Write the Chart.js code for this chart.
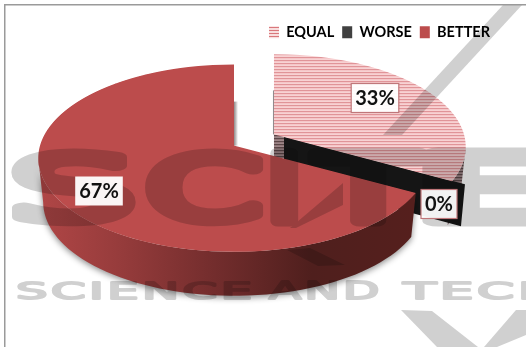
<!DOCTYPE html>
<html>
<head>
<meta charset="utf-8">
<title>Pie</title>
<style>
  html, body { margin: 0; padding: 0; background: #fff; overflow: hidden; }
  canvas { display: block; }
</style>
<script src="https://cdn.jsdelivr.net/npm/chart.js@4"></script>
</head>
<body>
<canvas id="pie" width="526" height="347"></canvas>
<script>
const categories = ["EQUAL", "WORSE", "BETTER"];
const shares = [33, 0, 67];
const sliceColors = ["#e8a0a2", "#404040", "#bc4c4c"];

const bigWatermark = ["S", "C", "I", "T", "E"];
const smallWatermark = ["SCIENCE", "AND", "TECH"];

// how the flat pie is laid over on the page
const pieCentre = { x: 254, y: 140 };
const explode = { x: 23.2, y: 11 };
const depth = 44;
const lean = 0.134;
const radiusX = [190, 190, 194];
const radiusY = [91, 91, 92];
const labelSpots = [[375, 98, true], [439, 204, true], [99, 191, false]];

const canvas = document.getElementById("pie");

// horizontal line fill, redrawn in device pixels so squashing the pie keeps the lines fine
function hatch(rows) {
  const tile = document.createElement("canvas");
  tile.width = 4;
  tile.height = rows.length;
  const t = tile.getContext("2d");
  rows.forEach((c, i) => {
    t.fillStyle = c;
    t.fillRect(0, i, 4, 1);
  });
  return canvas.getContext("2d").createPattern(tile, "repeat");
}
const topHatch = hatch(["#e09498", "#f5c6c8", "#f7d2d3"]);
const legendHatch = hatch(["#d9787c", "#f8dede", "#f8dede"]);
const wallHatch = hatch(["#5b4748", "#8f7678", "#9c8688"]);

function apexOf(arc) {
  const mid = (arc.startAngle + arc.endAngle) / 2;
  return { x: pieCentre.x + Math.cos(mid) * explode.x, y: pieCentre.y + Math.sin(mid) * explode.y };
}

// perspective view of a point on the flat rim
function rimPoint(apex, i, angle, shrink) {
  const u = Math.cos(angle), v = Math.sin(angle);
  const w = 1 / (1 - lean * v);
  return { x: apex.x + radiusX[i] * u * w * (shrink || 1), y: apex.y + radiusY[i] * v * w };
}

// outer side of a slice, only the part facing the viewer
function drawWall(ctx, arc, i, apex, fill, shadow) {
  const edge = Math.asin(lean);
  const from = Math.max(arc.startAngle, edge);
  const to = Math.min(arc.endAngle, Math.PI - edge);
  if (to <= from) return;
  ctx.save();
  ctx.beginPath();
  const steps = 60;
  for (let s = 0; s <= steps; s++) {
    const p = rimPoint(apex, i, from + (to - from) * s / steps);
    s ? ctx.lineTo(p.x, p.y) : ctx.moveTo(p.x, p.y);
  }
  for (let s = steps; s >= 0; s--) {
    const p = rimPoint(apex, i, from + (to - from) * s / steps, 0.975);
    ctx.lineTo(p.x, p.y + depth);
  }
  ctx.closePath();
  if (shadow) {
    ctx.shadowColor = "rgba(0,0,0,0.45)";
    ctx.shadowBlur = 6;
    ctx.shadowOffsetY = 2;
  }
  ctx.fillStyle = fill;
  ctx.fill();
  ctx.restore();
}

// canvas has no perspective transform, so the arc element is drawn one pixel row at a time
function drawTop(ctx, arc, i, apex) {
  const k = radiusY[i];
  const first = Math.floor(rimPoint(apex, i, -Math.PI / 2).y) - 1;
  const last = Math.ceil(rimPoint(apex, i, Math.PI / 2).y) + 1;
  for (let row = first; row <= last; row++) {
    const dy = row + 0.5 - apex.y;
    const v = dy / (k + lean * dy);
    const w = 1 / (1 - lean * v);
    const slope = (k + lean * dy) * (k + lean * dy) / k;
    ctx.save();
    ctx.beginPath();
    ctx.rect(0, row, canvas.width, 1);
    ctx.clip();
    ctx.translate(apex.x, row + 0.5);
    ctx.scale(radiusX[i] * w / arc.outerRadius, slope / arc.outerRadius);
    ctx.translate(-arc.x, -arc.y - v * arc.outerRadius);
    topHatch.setTransform(ctx.getTransform().inverse());
    arc.draw(ctx);
    ctx.restore();
  }
}

function drawFlatText(ctx, text, x, top, w, h, font, thick) {
  ctx.font = font;
  const m = ctx.measureText(text);
  const bw = m.actualBoundingBoxLeft + m.actualBoundingBoxRight;
  const bh = m.actualBoundingBoxAscent + m.actualBoundingBoxDescent;
  ctx.save();
  ctx.translate(x, top);
  ctx.scale(w / bw, h / bh);
  ctx.lineWidth = thick;
  ctx.fillText(text, m.actualBoundingBoxLeft, m.actualBoundingBoxAscent);
  ctx.strokeText(text, m.actualBoundingBoxLeft, m.actualBoundingBoxAscent);
  ctx.restore();
}

function polygon(ctx, pts) {
  ctx.beginPath();
  pts.forEach((p, i) => (i ? ctx.lineTo(p[0], p[1]) : ctx.moveTo(p[0], p[1])));
  ctx.closePath();
  ctx.fill();
}

// publisher stamp across the page, multiplied over the chart
function drawStamp(ctx) {
  const layer = document.createElement("canvas");
  layer.width = canvas.width;
  layer.height = canvas.height;
  const s = layer.getContext("2d");
  s.fillStyle = "#d0d0d0";
  s.strokeStyle = "#d0d0d0";
  s.lineJoin = "round";

  const bigBoxes = [[22, 102], [154, 100], [277, 14], [316, 104], [436, 126]];
  bigWatermark.forEach((letter, i) => {
    drawFlatText(s, letter, bigBoxes[i][0], 153, bigBoxes[i][1], 68, '100px "DejaVu Sans"', 12);
  });
  s.letterSpacing = "7px";
  const smallBoxes = [[19, 230], [269, 108], [403, 150]];
  smallWatermark.forEach((word, i) => {
    drawFlatText(s, word, smallBoxes[i][0], 281, smallBoxes[i][1], 18, '100px "DejaVu Sans"', 8);
  });
  s.letterSpacing = "0px";

  polygon(s, [[503, 5], [522, 5], [402, 135], [383, 135]]);
  polygon(s, [[343, 183], [343, 205], [296, 228], [290, 228]]);
  polygon(s, [[287, 250], [310, 248], [345, 265], [318, 266]]);
  polygon(s, [[401, 310], [432, 311], [478, 347], [437, 347]]);
  polygon(s, [[516, 310], [526, 310], [526, 335], [497, 347], [484, 347]]);

  ctx.save();
  ctx.globalCompositeOperation = "multiply";
  ctx.drawImage(layer, 0, 0);
  ctx.restore();
}

function drawLabels(ctx) {
  ctx.save();
  ctx.font = 'bold 20px "Lato"';
  ctx.textAlign = "center";
  ctx.textBaseline = "middle";
  shares.forEach((v, i) => {
    const [x, y, framed] = labelSpots[i];
    const text = v + "%";
    const w = ctx.measureText(text).width + 8;
    const h = 29;
    ctx.fillStyle = "rgba(255,255,255,0.95)";
    ctx.fillRect(x - w / 2, y - h / 2, w, h);
    if (framed) {
      ctx.strokeStyle = "#c0777a";
      ctx.lineWidth = 1.2;
      ctx.strokeRect(x - w / 2, y - h / 2, w, h);
    }
    ctx.fillStyle = "#111";
    ctx.fillText(text, x, y + 1);
  });
  ctx.restore();
}

const laidOverPie = {
  id: "laidOverPie",
  beforeDatasetsDraw(chart) {
    const ctx = chart.ctx;
    const arcs = chart.getDatasetMeta(0).data;
    const equal = arcs[0], worse = arcs[1], better = arcs[2];
    const eqApex = apexOf(equal);
    const brApex = apexOf(better);

    // equal slice: back strip, rim, cut faces, then its top
    ctx.fillStyle = "#8f8a8c";
    ctx.fillRect(eqApex.x - 1, eqApex.y - depth, 2, depth);
    wallHatch.setTransform(new DOMMatrix());
    drawWall(ctx, equal, 0, eqApex, wallHatch, false);
    ctx.fillStyle = wallHatch;
    ctx.fillRect(eqApex.x, eqApex.y, 11, depth - 20);

    // the empty WORSE slice only shows as its black cut face
    const cut = rimPoint(eqApex, 1, worse.startAngle);
    ctx.fillStyle = "#151515";
    ctx.beginPath();
    ctx.moveTo(eqApex.x + 10, eqApex.y + 2);
    ctx.lineTo(cut.x + 13, cut.y + 3);
    ctx.lineTo(cut.x + 9, cut.y + depth + 1);
    ctx.lineTo(eqApex.x + 10, eqApex.y + depth);
    ctx.closePath();
    ctx.fill();
    drawTop(ctx, equal, 0, eqApex);

    // better slice: soft back edge, shaded rim, top
    const back = ctx.createLinearGradient(brApex.x, 0, brApex.x + 4, 0);
    back.addColorStop(0, "#8d8787");
    back.addColorStop(1, "#ffffff");
    ctx.fillStyle = back;
    ctx.fillRect(brApex.x, brApex.y - depth, 4, depth);

    const shade = ctx.createLinearGradient(brApex.x - radiusX[2], 0, brApex.x + radiusX[2], 0);
    shade.addColorStop(0, "#b04646");
    shade.addColorStop(0.2, "#973c3c");
    shade.addColorStop(0.45, "#732d2d");
    shade.addColorStop(0.7, "#4f1f1d");
    shade.addColorStop(1, "#561f1d");
    drawWall(ctx, better, 2, brApex, shade, true);
    drawTop(ctx, better, 2, brApex);

    drawStamp(ctx);
    drawLabels(ctx);

    // page frame
    ctx.fillStyle = "#9a9a9a";
    ctx.fillRect(4, 4, canvas.width - 4, 1.5);
    ctx.fillRect(4, 4, 1.5, canvas.height - 4);
    return false;
  }
};

new Chart(canvas, {
  type: "pie",
  data: {
    labels: categories,
    datasets: [{
      data: shares,
      backgroundColor: [topHatch, sliceColors[1], sliceColors[2]],
      borderWidth: 0
    }]
  },
  options: {
    responsive: false,
    animation: false,
    layout: { padding: { top: 17, right: 28 } },
    plugins: {
      tooltip: { enabled: false },
      legend: {
        position: "top",
        align: "end",
        labels: {
          boxWidth: 10,
          boxHeight: 12,
          padding: 8,
          color: "#111",
          font: { family: "Lato", size: 14.5, weight: "bold" },
          generateLabels: chart => categories.map((name, i) => ({
            text: name,
            fillStyle: i === 0 ? legendHatch : sliceColors[i],
            strokeStyle: "transparent",
            lineWidth: 0,
            index: i
          }))
        }
      }
    }
  },
  plugins: [laidOverPie]
});
</script>
</body>
</html>
